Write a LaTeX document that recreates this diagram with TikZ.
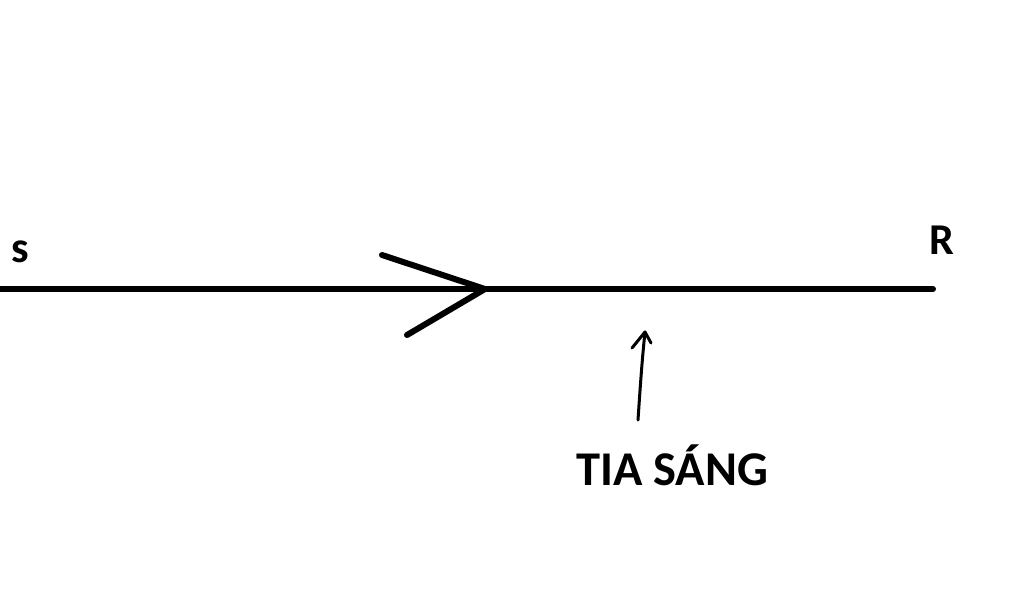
\documentclass[tikz,border=0pt]{standalone}
\usepackage{fontspec}
\setmainfont{Carlito}
\begin{document}
\begin{tikzpicture}[x=1pt,y=-1pt,
  lbl/.style={font=\bfseries\fontsize{44}{48}\selectfont, inner sep=0pt},
  biglbl/.style={font=\bfseries\fontsize{48.5}{52}\selectfont, inner sep=0pt},
  ray/.style={line width=6pt, line cap=round, line join=round},
  pointer/.style={line width=3pt, line cap=round, line join=round}]
\useasboundingbox (0,0) rectangle (1024,614);
\coordinate (S) at (0,289);
\coordinate (R) at (933,289);
\coordinate (M) at (485,289);
\coordinate (MA) at (382,255);
\coordinate (MB) at (407,335);
\node[lbl, anchor=base] (ls) at (20,262) {s};
\node[lbl, anchor=base] (lr) at (942,254) {R};
\node[biglbl, anchor=base] (lt) at (672,485) {TIA SÁNG};
\draw[ray] (S) -- (R);
\draw[ray] (MA) -- (M) -- (MB);
\coordinate (P0) at (638,420);
\coordinate (P1) at (645,332);
\draw[pointer] (P0) .. controls (640,390) and (642,360) .. (P1);
\draw[pointer] (632,348) -- (P1) -- (651,343);
\end{tikzpicture}
\end{document}
